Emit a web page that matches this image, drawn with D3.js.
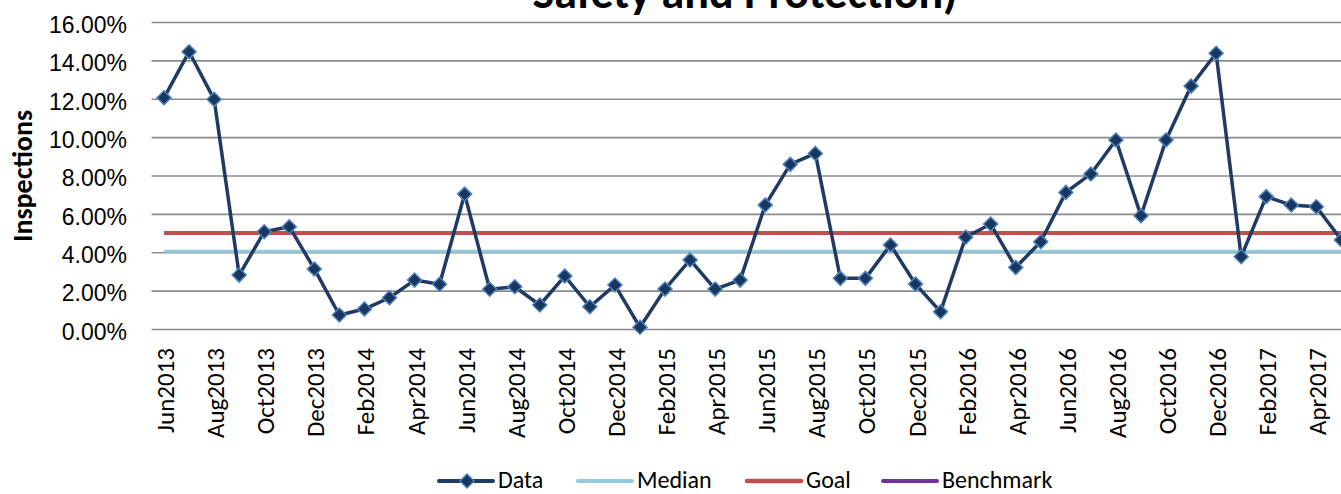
<!DOCTYPE html>
<html>
<head>
<meta charset="utf-8">
<script src="https://cdn.jsdelivr.net/npm/d3@7"></script>
<style>
  html, body { margin: 0; padding: 0; background: #fff; overflow: hidden; }
  svg { display: block; font-family: Carlito, Lato, "Open Sans", sans-serif; }
</style>
</head>
<body>
<svg id="chart" width="1341" height="494"></svg>
<script>
// Monthly inspection rate (%), Jun 2013 – May 2017
const months = [
  "Jun2013","Jul2013","Aug2013","Sep2013","Oct2013","Nov2013","Dec2013",
  "Jan2014","Feb2014","Mar2014","Apr2014","May2014","Jun2014","Jul2014","Aug2014","Sep2014","Oct2014","Nov2014","Dec2014",
  "Jan2015","Feb2015","Mar2015","Apr2015","May2015","Jun2015","Jul2015","Aug2015","Sep2015","Oct2015","Nov2015","Dec2015",
  "Jan2016","Feb2016","Mar2016","Apr2016","May2016","Jun2016","Jul2016","Aug2016","Sep2016","Oct2016","Nov2016","Dec2016",
  "Jan2017","Feb2017","Mar2017","Apr2017","May2017"
];
const dataValues = [
  12.05, 14.45, 11.97, 2.81, 5.07, 5.33, 3.13,
  0.73, 1.04, 1.63, 2.55, 2.33, 7.03, 2.07, 2.20, 1.25, 2.76, 1.16, 2.29,
  0.09, 2.08, 3.60, 2.08, 2.55, 6.46, 8.58, 9.15, 2.64, 2.64, 4.38, 2.34,
  0.90, 4.78, 5.47, 3.21, 4.55, 7.12, 8.08, 9.85, 5.90, 9.85, 12.66, 14.37,
  3.77, 6.90, 6.46, 6.37, 4.64
];
const medianValue = 4.05;
const goalValue = 5.0;
const yTicks = [0, 2, 4, 6, 8, 10, 12, 14, 16];
const legendItems = ["Data", "Median", "Goal", "Benchmark"];

const colors = {
  Data: "#1F3A63",
  marker: "#17375E",
  markerEdge: "#4F81BD",
  Median: "#92CDDC",
  Goal: "#C0504D",
  Benchmark: "#7030A0",
  grid: "#8C8C8C"
};

const svg = d3.select("#chart");
svg.append("rect").attr("width", 1341).attr("height", 494).attr("fill", "#fff");

const plotLeft = 151.5, step = 25.05, plotTop = 22, plotBottom = 329;
const x = d3.scaleBand().domain(months).range([plotLeft, plotLeft + step * months.length]);
const cx = d => x(d) + x.bandwidth() / 2;
const y = d3.scaleLinear().domain([0, 16]).range([plotBottom, plotTop]);

// Title (second line of the heading, top clipped by the frame)
svg.append("text")
  .attr("x", 745).attr("y", 8)
  .attr("text-anchor", "middle")
  .attr("font-weight", "bold").attr("font-size", 46)
  .attr("fill", "#000")
  .text("Safety and Protection)");

// Horizontal gridlines and percentage labels
const yAxis = d3.axisLeft(y).tickValues(yTicks)
  .tickSize(-(x.range()[1] - plotLeft))
  .tickFormat(d => d3.format(".2f")(d) + "%");
const gy = svg.append("g").attr("transform", `translate(${plotLeft},0)`).call(yAxis);
gy.select(".domain").remove();
gy.selectAll(".tick line").attr("stroke", colors.grid).attr("stroke-width", 1.6);
gy.selectAll(".tick text")
  .attr("font-size", 23).attr("fill", "#000").attr("dy", "0.45em")
  .attr("x", 127 - plotLeft);

// Y axis title
svg.append("text")
  .attr("transform", "translate(32,176) rotate(-90)")
  .attr("text-anchor", "middle")
  .attr("font-weight", "bold").attr("font-size", 28)
  .attr("fill", "#000")
  .text("Inspections");

// X axis category labels (every other month)
const gx = svg.append("g");
gx.selectAll("text")
  .data(months.filter((m, i) => i % 2 === 0))
  .join("text")
  .attr("transform", d => `translate(${cx(d) + 1},348) rotate(-90)`)
  .attr("text-anchor", "end")
  .attr("dy", "0.36em")
  .attr("font-size", 25)
  .attr("fill", "#000")
  .text(d => d);

// Median and goal reference lines
const first = cx(months[0]), last = cx(months[months.length - 1]);
svg.append("line")
  .attr("x1", first).attr("x2", last)
  .attr("y1", y(medianValue)).attr("y2", y(medianValue))
  .attr("stroke", colors.Median).attr("stroke-width", 3);
svg.append("line")
  .attr("x1", first).attr("x2", last)
  .attr("y1", y(goalValue)).attr("y2", y(goalValue))
  .attr("stroke", colors.Goal).attr("stroke-width", 4);

// Data line
const line = d3.line().x((d, i) => cx(months[i])).y(d => y(d));
svg.append("path")
  .datum(dataValues)
  .attr("d", line)
  .attr("fill", "none")
  .attr("stroke", colors.Data)
  .attr("stroke-width", 3.5)
  .attr("stroke-linejoin", "round");

// Diamond markers
const diamond = "M0,-7L7,0L0,7L-7,0Z";
svg.append("g").selectAll("path")
  .data(dataValues)
  .join("path")
  .attr("d", diamond)
  .attr("transform", (d, i) => `translate(${cx(months[i])},${y(d)})`)
  .attr("fill", colors.marker)
  .attr("stroke", colors.markerEdge)
  .attr("stroke-width", 1.5);

// Legend
const legendPos = { Data: 439, Median: 578, Goal: 747, Benchmark: 883 };
const legendY = 481;
const lg = svg.append("g");
legendItems.forEach(name => {
  const x0 = legendPos[name];
  const g = lg.append("g");
  g.append("line")
    .attr("x1", x0).attr("x2", x0 + 54)
    .attr("y1", legendY).attr("y2", legendY)
    .attr("stroke", colors[name])
    .attr("stroke-width", name === "Goal" ? 4.5 : 4)
    .attr("stroke-linecap", "round");
  if (name === "Data") {
    g.append("path").attr("d", diamond)
      .attr("transform", `translate(${x0 + 28},${legendY})`)
      .attr("fill", colors.marker).attr("stroke", colors.markerEdge).attr("stroke-width", 1.5);
  }
  g.append("text")
    .attr("x", x0 + 59).attr("y", legendY).attr("dy", "0.3em")
    .attr("font-size", 24).attr("fill", "#000")
    .text(name);
});
</script>
</body>
</html>
